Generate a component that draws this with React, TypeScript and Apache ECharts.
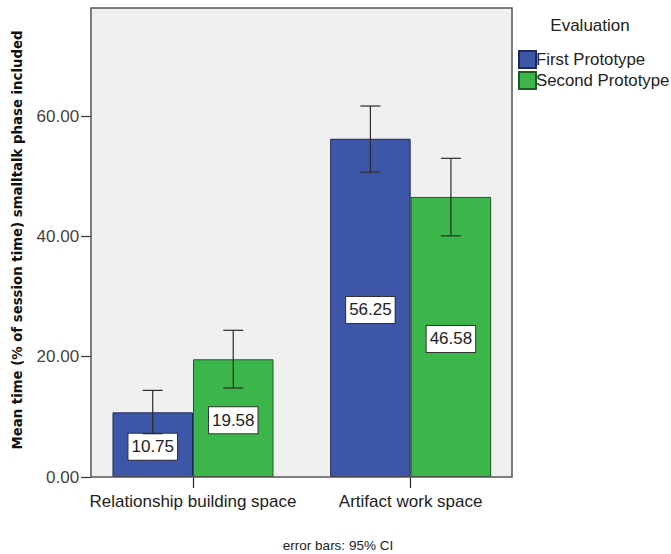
import React, { useEffect, useRef } from "react";
import * as echarts from "echarts";

const categories = ["Relationship building space", "Artifact work space"];
const seriesNames = ["First Prototype", "Second Prototype"];
const firstMeans = [10.75, 56.25];
const secondMeans = [19.58, 46.58];
const firstLow = [7.2, 50.7];
const firstHigh = [14.4, 61.7];
const secondLow = [14.8, 40.1];
const secondHigh = [24.4, 53.0];
const yTicks = [0, 20, 40, 60];

const BLUE = "#3d56a8";
const GREEN = "#3cb64a";
const BAR_W = 80.5;
const FONT = "Liberation Sans, Arial, sans-serif";

export default function App() {
  const ref = useRef<HTMLDivElement>(null);
  useEffect(() => {
    document.body.style.margin = "0";
    if (!ref.current) return;
    const chart = echarts.init(ref.current, null, { renderer: "svg" });
    const errSeries = (lows: number[], highs: number[], sign: number, name: string) => ({
      type: "custom",
      name: name + " err",
      z: 5,
      data: lows.map((l, i) => [i, l, highs[i]]),
      renderItem: (params: any, api: any) => {
        const idx = api.value(0);
        const lo = api.coord([idx, api.value(1)]);
        const hi = api.coord([idx, api.value(2)]);
        const x = lo[0] + sign * BAR_W / 2;
        const cap = 10;
        const style = { stroke: "#2b2b2b", lineWidth: 1.2 };
        return {
          type: "group",
          children: [
            { type: "line", shape: { x1: x, y1: lo[1], x2: x, y2: hi[1] }, style },
            { type: "line", shape: { x1: x - cap, y1: lo[1], x2: x + cap, y2: lo[1] }, style },
            { type: "line", shape: { x1: x - cap, y1: hi[1], x2: x + cap, y2: hi[1] }, style },
          ],
        };
      },
    });
    const label = {
      show: true,
      position: "inside",
      offset: [0, 2],
      formatter: (p: any) => Number(p.value).toFixed(2),
      backgroundColor: "#ffffff",
      borderColor: "#333333",
      borderWidth: 1,
      padding: [5, 3, 4, 3],
      fontSize: 17,
      fontFamily: FONT,
      color: "#222222",
    };
    chart.setOption({
      animation: false,
      graphic: [
        {
          type: "rect",
          z: -10,
          silent: true,
          shape: { x: 91, y: 8, width: 421, height: 469 },
          style: { fill: "#f0f0f0", stroke: null },
        },
        {
          type: "rect",
          z: 100,
          silent: true,
          shape: { x: 91, y: 8, width: 421, height: 469 },
          style: { fill: "none", stroke: "#555555", lineWidth: 1.5 },
        },
        {
          type: "text",
          silent: true,
          x: 17,
          y: 240,
          rotation: Math.PI / 2,
          style: {
            text: "Mean time (% of session time) smalltalk phase included",
            font: "bold 13.3px 'DejaVu Sans', Verdana, sans-serif",
            fill: "#111111",
            textAlign: "center",
            textVerticalAlign: "middle",
          },
        },
        {
          type: "text",
          silent: true,
          x: 590,
          y: 25,
          style: {
            text: "Evaluation",
            font: "17px " + FONT,
            fill: "#222222",
            textAlign: "center",
            textVerticalAlign: "middle",
          },
        },
        {
          type: "text",
          silent: true,
          x: 338,
          y: 545,
          style: {
            text: "error bars: 95% CI",
            font: "13.5px " + FONT,
            fill: "#222222",
            textAlign: "center",
            textVerticalAlign: "middle",
          },
        },
      ],
      legend: {
        orient: "vertical",
        left: 513,
        top: 45,
        itemWidth: 17,
        itemHeight: 17,
        itemGap: 2,
        icon: "rect",
        data: seriesNames,
        textStyle: { fontSize: 16.8, fontFamily: FONT, color: "#222222", padding: [0, 0, 0, -5] },
      },
      grid: { left: 84.15, right: 151.5, top: 8, bottom: 77, containLabel: false },
      xAxis: {
        type: "category",
        data: categories,
        axisLine: { show: false },
        axisTick: { show: true, alignWithLabel: true, length: 11, lineStyle: { color: "#222222", width: 1.2 } },
        axisLabel: { fontSize: 17, fontFamily: FONT, color: "#222222", margin: 16, interval: 0 },
      },
      yAxis: {
        type: "value",
        min: 0,
        max: 78,
        interval: 20,
        offset: -7,
        axisLine: { show: false },
        axisTick: { show: true, length: 10, customValues: yTicks, lineStyle: { color: "#333333", width: 1.2 } },
        splitLine: { show: false },
        axisLabel: {
          fontSize: 17,
          fontFamily: FONT,
          color: "#444444",
          margin: 12,
          customValues: yTicks,
          formatter: (v: number) => (yTicks.includes(v) ? v.toFixed(2) : ""),
        },
      },
      series: [
        {
          type: "bar",
          name: seriesNames[0],
          data: firstMeans,
          barWidth: BAR_W,
          barGap: "0%",
          itemStyle: { color: BLUE, borderColor: "#1f2a55", borderWidth: 1 },
          label,
        },
        {
          type: "bar",
          name: seriesNames[1],
          data: secondMeans,
          barWidth: BAR_W,
          barGap: "0%",
          itemStyle: { color: GREEN, borderColor: "#1e5a26", borderWidth: 1 },
          label,
        },
        errSeries(firstLow, firstHigh, -1, seriesNames[0]),
        errSeries(secondLow, secondHigh, 1, seriesNames[1]),
      ],
    });
    return () => chart.dispose();
  }, []);
  return <div ref={ref} style={{ width: 671, height: 554 }} />;
}
